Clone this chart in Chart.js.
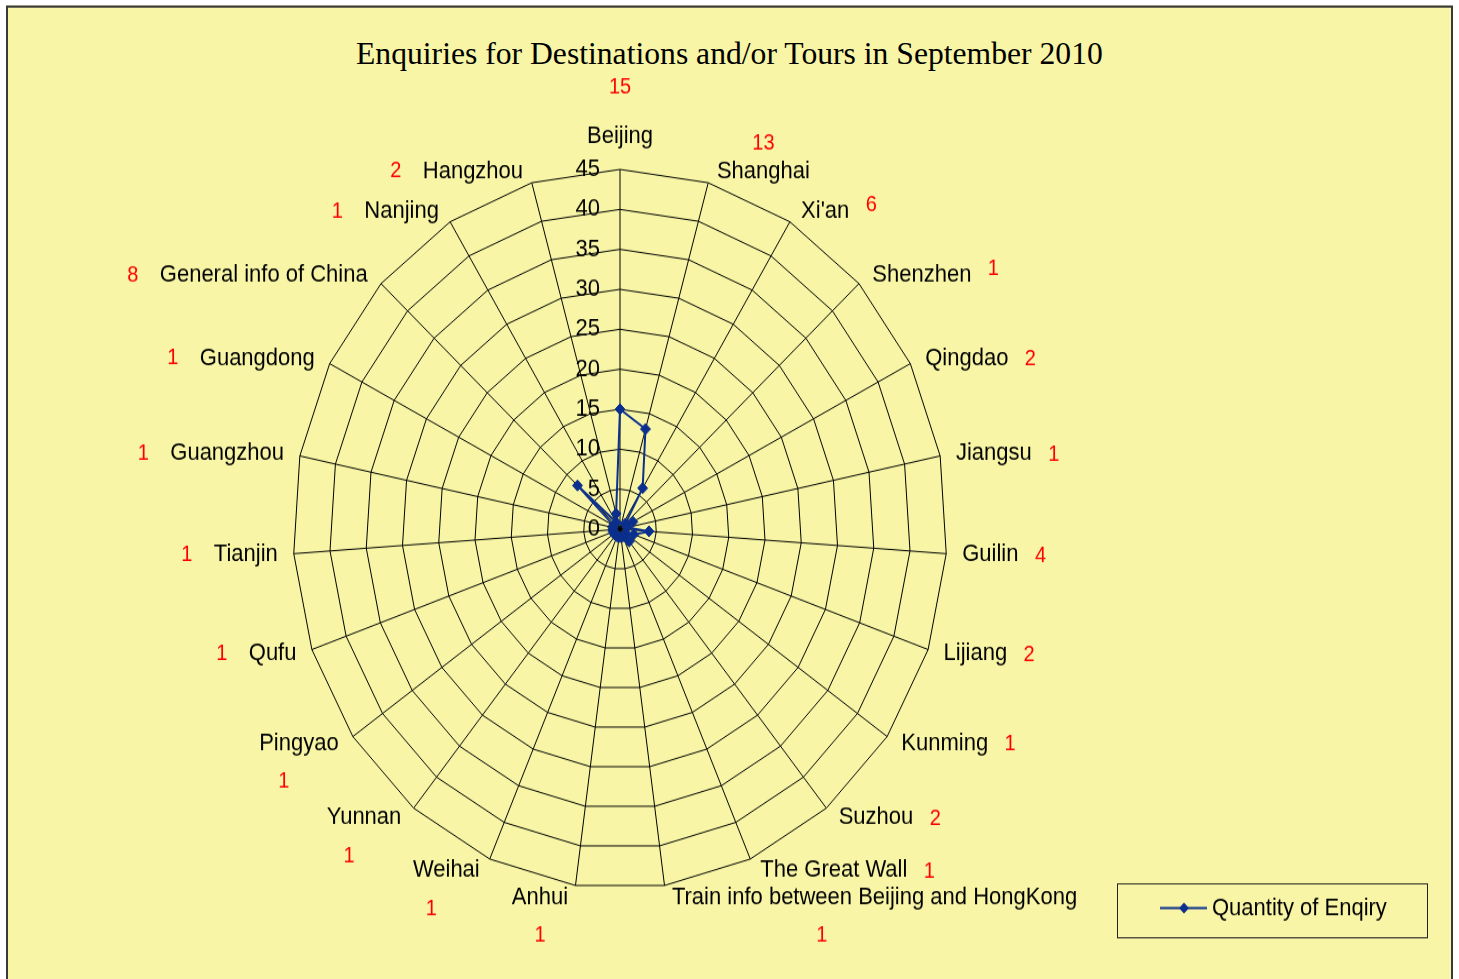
<!DOCTYPE html>
<html>
<head>
<meta charset="utf-8">
<title>Enquiries for Destinations and/or Tours in September 2010</title>
<script src="https://cdn.jsdelivr.net/npm/chart.js@4.4.0/dist/chart.umd.min.js"></script>
<style>
  html, body { margin: 0; padding: 0; background: #fff; overflow: hidden; }
  /* the original picture is stretched vertically, so the whole chart is drawn flat and scaled */
  #stage { position: absolute; left: 0; top: 0; width: 1459px; height: 890px; transform: scaleY(1.1); transform-origin: 0 0; }
  #frame { position: absolute; left: 6px; top: 5px; width: 1443px; height: 900px; background: #f8f6a6; border: 2px solid #3a3a3a; }
  #title { position: absolute; left: 0; top: 35px; width: 1459px; text-align: center; font: 28px "Liberation Serif", "Times New Roman", serif; color: #000; line-height: 1; }
  #title span { display: inline-block; transform: scaleX(1.13); }
  #chart { position: absolute; left: 0; top: 0; width: 1459px; height: 890px; }
</style>
</head>
<body>
<div id="stage">
  <div id="frame"></div>
  <div id="title"><span>Enquiries for Destinations and/or Tours in September 2010</span></div>
  <canvas id="chart" width="1459" height="890"></canvas>
</div>
<script>
const categories = [
  'Beijing', 'Shanghai', "Xi'an", 'Shenzhen', 'Qingdao', 'Jiangsu', 'Guilin',
  'Lijiang', 'Kunming', 'Suzhou', 'The Great Wall',
  'Train info between Beijing and HongKong', 'Anhui', 'Weihai', 'Yunnan',
  'Pingyao', 'Qufu', 'Tianjin', 'Guangzhou', 'Guangdong',
  'General info of China', 'Nanjing', 'Hangzhou'
];
const enquiries = [15, 13, 6, 1, 2, 1, 4, 2, 1, 2, 1, 1, 1, 1, 1, 1, 1, 1, 1, 1, 8, 1, 2];
const tickValues = [0, 5, 10, 15, 20, 25, 30, 35, 40, 45];
const seriesName = 'Quantity of Enqiry';

const navy = '#0b2f8c';
const labelFont = '22px "Liberation Sans", Arial, sans-serif';
const valueFont = '20px "Liberation Sans", Arial, sans-serif';

// Excel style text: axis numbers, category names, red value labels, legend box
const excelText = {
  id: 'excelText',
  afterDatasetsDraw(chart) {
    const ctx = chart.ctx;
    const r = chart.scales.r;
    const n = categories.length;
    ctx.save();
    ctx.textBaseline = 'middle';

    ctx.font = labelFont;
    ctx.fillStyle = '#000';
    ctx.textAlign = 'right';
    tickValues.forEach(v => {
      ctx.fillText(String(v), r.xCenter - 20, r.yCenter - r.getDistanceFromCenterForValue(v));
    });

    categories.forEach((name, i) => {
      const a = i * 2 * Math.PI / n;
      const deg = i * 360 / n;
      const s = Math.sin(a), c = Math.cos(a);
      const p = r.getPointPosition(i, r.drawingArea);
      ctx.font = labelFont;
      const w = ctx.measureText(name).width;
      let x0, cy;
      if (Math.abs(s) < 0.05) {
        x0 = p.x - w / 2; cy = p.y - 30;
      } else if (s > 0) {
        x0 = p.x + 6 + 10 * s; cy = p.y - 11 * c;
      } else {
        x0 = p.x - 6 + 10 * s - w; cy = p.y - 11 * c;
      }
      ctx.textAlign = 'left';
      ctx.fillStyle = '#000';
      ctx.fillText(name, x0, cy);

      let vx, vy;
      if (deg === 0) { vx = x0 + w / 2; vy = cy - 45; }
      else if (deg < 25) { vx = x0 + w / 2; vy = cy - 25; }
      else if (deg < 50) { vx = x0 + w + 22; vy = cy - 6; }
      else if (deg <= 160) { vx = x0 + w + 22; vy = cy + 1; }
      else if (deg < 245) { vx = x0 + Math.min(w / 2, 150) - (deg > 195 ? 15 : 0); vy = cy + 35; }
      else { vx = x0 - 27; vy = cy; }
      ctx.font = valueFont;
      ctx.fillStyle = '#ff0000';
      ctx.textAlign = 'center';
      ctx.fillText(String(enquiries[i]), vx, vy);
    });

    // legend
    ctx.strokeStyle = '#222';
    ctx.lineWidth = 1;
    ctx.strokeRect(1117.5, 803.5, 310, 49);
    ctx.strokeStyle = navy;
    ctx.lineWidth = 2;
    ctx.beginPath();
    ctx.moveTo(1160, 825.5);
    ctx.lineTo(1207, 825.5);
    ctx.stroke();
    ctx.fillStyle = navy;
    ctx.beginPath();
    ctx.moveTo(1184, 820.5);
    ctx.lineTo(1189, 825.5);
    ctx.lineTo(1184, 830.5);
    ctx.lineTo(1179, 825.5);
    ctx.closePath();
    ctx.fill();
    ctx.font = '22px "Liberation Sans", Arial, sans-serif';
    ctx.fillStyle = '#000';
    ctx.textAlign = 'left';
    ctx.fillText(seriesName, 1212, 826);
    ctx.restore();
  }
};

new Chart(document.getElementById('chart'), {
  type: 'radar',
  data: {
    labels: categories,
    datasets: [{
      label: seriesName,
      data: enquiries,
      borderColor: navy,
      backgroundColor: navy,
      borderWidth: 2,
      fill: false,
      tension: 0,
      pointStyle: 'rectRot',
      pointRadius: 5,
      pointBackgroundColor: navy,
      pointBorderColor: navy,
      pointBorderWidth: 1
    }]
  },
  options: {
    responsive: false,
    maintainAspectRatio: false,
    devicePixelRatio: 1,
    animation: false,
    events: [],
    layout: { padding: { left: 293, right: 512, top: 154, bottom: 82 } },
    plugins: {
      legend: { display: false },
      title: { display: false },
      tooltip: { enabled: false }
    },
    scales: {
      r: {
        min: 0,
        max: 45,
        ticks: { stepSize: 5, display: false },
        grid: { color: '#000', lineWidth: 1, circular: false },
        angleLines: { color: '#000', lineWidth: 1 },
        pointLabels: { display: false }
      }
    }
  },
  plugins: [excelText]
});
</script>
</body>
</html>
